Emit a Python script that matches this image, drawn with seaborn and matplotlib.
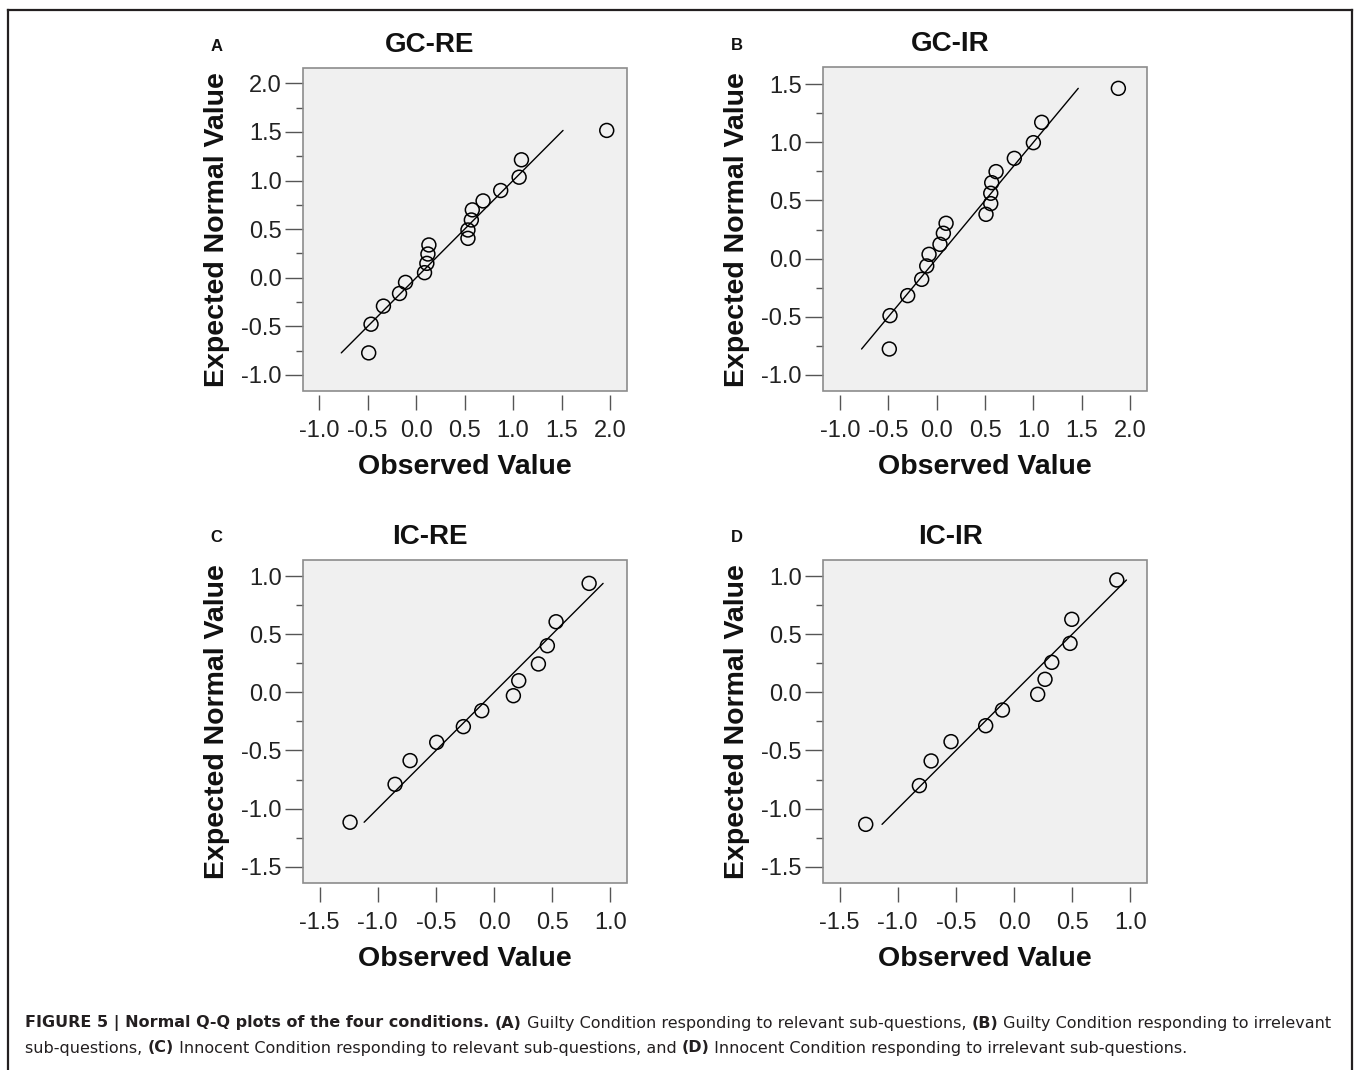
import numpy as np
import seaborn as sns
import matplotlib
matplotlib.use("Agg")
import matplotlib.pyplot as plt
from matplotlib.patches import Rectangle

gc_re_obs = [-0.49, -0.466, -0.338, -0.172, -0.110, 0.086, 0.110, 0.121, 0.131,
             0.534, 0.534, 0.569, 0.579, 0.690, 0.872, 1.062, 1.086, 1.966]
gc_re_exp = [-0.773, -0.478, -0.292, -0.162, -0.048, 0.052, 0.148, 0.244, 0.337,
             0.405, 0.491, 0.594, 0.698, 0.790, 0.897, 1.034, 1.213, 1.515]

gc_ir_obs = [-0.490, -0.483, -0.300, -0.155, -0.103, -0.079, 0.034, 0.069, 0.097,
             0.510, 0.559, 0.559, 0.569, 0.614, 0.803, 1.000, 1.086, 1.879]
gc_ir_exp = [-0.777, -0.490, -0.318, -0.178, -0.063, 0.037, 0.123, 0.218, 0.304,
             0.381, 0.473, 0.562, 0.653, 0.748, 0.862, 0.997, 1.172, 1.464]

ic_re_obs = [-1.238, -0.851, -0.722, -0.493, -0.264, -0.106, 0.166, 0.212, 0.381,
             0.458, 0.533, 0.817]
ic_re_exp = [-1.117, -0.791, -0.587, -0.430, -0.295, -0.158, -0.029, 0.100, 0.244,
             0.401, 0.607, 0.937]

ic_ir_obs = [-1.275, -0.814, -0.713, -0.542, -0.244, -0.100, 0.203, 0.266, 0.324,
             0.481, 0.496, 0.883]
ic_ir_exp = [-1.135, -0.802, -0.590, -0.424, -0.287, -0.152, -0.017, 0.112, 0.258,
             0.421, 0.628, 0.966]

panel_titles = ["GC-RE", "GC-IR", "IC-RE", "IC-IR"]
panel_letters = ["A", "B", "C", "D"]
x_label = "Observed Value"
y_label = "Expected Normal Value"

caption_line1 = [("FIGURE 5 | Normal Q-Q plots of the four conditions. ", "bold"),
                 ("(A)", "bold"),
                 (" Guilty Condition responding to relevant sub-questions, ", "normal"),
                 ("(B)", "bold"),
                 (" Guilty Condition responding to irrelevant", "normal")]
caption_line2 = [("sub-questions, ", "normal"),
                 ("(C)", "bold"),
                 (" Innocent Condition responding to relevant sub-questions, and ", "normal"),
                 ("(D)", "bold"),
                 (" Innocent Condition responding to irrelevant sub-questions.", "normal")]

series = [(gc_re_obs, gc_re_exp), (gc_ir_obs, gc_ir_exp),
          (ic_re_obs, ic_re_exp), (ic_ir_obs, ic_ir_exp)]

# layout: axes box in pixels (left, top, right, bottom), axis ranges and ticks
W, H = 1356, 1070
boxes = [(302.7, 68.3, 626.7, 391), (822.7, 67.3, 1146.7, 391),
         (302.7, 560, 626.7, 883.3), (822.7, 560, 1146.7, 883.3)]
xlims = [(-1.171, 2.172), (-1.179, 2.172), (-1.645, 1.140), (-1.645, 1.140)]
ylims = [(-1.165, 2.154), (-1.138, 1.645), (-1.642, 1.138), (-1.642, 1.138)]
xtick_rng = [(-1.0, 2.0), (-1.0, 2.0), (-1.5, 1.0), (-1.5, 1.0)]
ytick_rng = [(-1.0, 2.0), (-1.0, 1.5), (-1.5, 1.0), (-1.5, 1.0)]

sns.set_style("white")
plt.rcParams['font.family'] = ['Liberation Sans', 'DejaVu Sans']
plt.rcParams['axes.unicode_minus'] = False

fig = plt.figure(figsize=(W / 100, H / 100), dpi=100)

# background axes in pixel coordinates for texts and the frame
bg = fig.add_axes([0, 0, 1, 1])
bg.set_xlim(0, W)
bg.set_ylim(H, 0)
bg.axis('off')

frame_c = '#231f20'
bg.plot([8, 8], [H + 5, 10], color=frame_c, lw=1.6, solid_capstyle='projecting')
bg.plot([8, 1352], [10, 10], color=frame_c, lw=1.6, solid_capstyle='projecting')
bg.plot([1352, 1352], [10, H + 5], color=frame_c, lw=1.6, solid_capstyle='projecting')


def fmt(v, pos=None):
    s = "{:.1f}".format(v)
    return "0.0" if s == "-0.0" else s


for i in range(4):
    l, t, r, b = boxes[i]
    ax = fig.add_axes([l / W, 1 - b / H, (r - l) / W, (b - t) / H])
    ax.set_facecolor('#f0f0f0')
    obs, exp = series[i]

    lo, hi = min(exp), max(exp)
    sns.lineplot(x=[lo, hi], y=[lo, hi], ax=ax, color='black', lw=1.0)
    sns.scatterplot(x=obs, y=exp, ax=ax, s=100, facecolors='none',
                    edgecolor='black', linewidth=1.1, zorder=3)

    ax.set_xticks(np.arange(xtick_rng[i][0], xtick_rng[i][1] + 0.01, 0.5))
    ax.set_yticks(np.arange(ytick_rng[i][0], ytick_rng[i][1] + 0.01, 0.5))
    minor = np.arange(ytick_rng[i][0] - 0.25, ytick_rng[i][1] + 0.26, 0.25)
    minor = minor[(minor > ylims[i][0]) & (minor < ylims[i][1])]
    ax.set_yticks(minor, minor=True)
    ax.set_xlim(*xlims[i])
    ax.set_ylim(*ylims[i])
    ax.xaxis.set_major_formatter(plt.FuncFormatter(fmt))
    ax.yaxis.set_major_formatter(plt.FuncFormatter(fmt))

    for sp in ax.spines.values():
        sp.set_visible(False)
    ax.spines['bottom'].set_position(('outward', 3))
    ax.add_patch(Rectangle((0, 0), 1, 1, transform=ax.transAxes, fill=False,
                           ec='#8c8c8c', lw=1.2, clip_on=False, zorder=5))

    ax.tick_params(axis='x', which='major', direction='out', length=11, width=1.0,
                   color='#555555', labelsize=17, labelcolor='#222222', pad=7,
                   bottom=True)
    ax.tick_params(axis='y', which='major', direction='out', length=13, width=1.0,
                   color='#555555', labelsize=17, labelcolor='#222222', pad=2,
                   left=True)
    ax.tick_params(axis='y', which='minor', direction='out', length=5, width=1.0,
                   color='#555555', left=True)
    ax.set_xlabel("")
    ax.set_ylabel("")

    bg.text(l + 127.3, t - 23, panel_titles[i], fontsize=20, fontweight='bold',
            ha='center', va='center', color='#111111')
    bg.text(l - 86, t - 22, panel_letters[i], fontsize=12, fontweight='bold',
            ha='center', va='center', color='#111111')
    bg.text((l + r) / 2, b + 76, x_label, fontsize=20.5, fontweight='bold',
            ha='center', va='center', color='#111111')
    bg.text(l - 86, (t + b) / 2, y_label, fontsize=20.5, fontweight='bold',
            ha='center', va='center', rotation=90, color='#111111')

# caption, built from bold / regular pieces
cap_size = 11.5
for line, y0 in [(caption_line1, 1023), (caption_line2, 1048)]:
    prev = None
    for txt, wt in line:
        if prev is None:
            prev = bg.text(25, y0, txt, fontsize=cap_size, fontweight=wt,
                           family='DejaVu Sans', ha='left', va='center',
                           color='#231f20')
        else:
            prev = bg.annotate(txt, xy=(1, 0), xycoords=prev, fontsize=cap_size,
                               fontweight=wt, family='DejaVu Sans', ha='left',
                               va='bottom', color='#231f20')

fig.savefig("out.png", dpi=100)
